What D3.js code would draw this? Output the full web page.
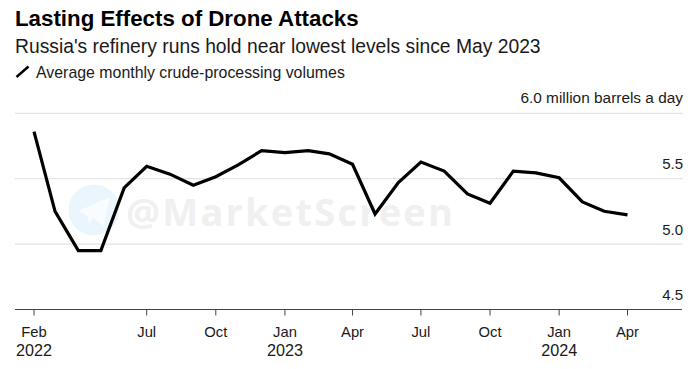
<!DOCTYPE html>
<html><head><meta charset="utf-8">
<script src="https://cdn.jsdelivr.net/npm/d3@7"></script>
<style>html,body{margin:0;padding:0;background:#fff}svg{display:block}text{font-family:"Liberation Sans",Arial,sans-serif}</style>
</head><body><svg id="c" width="700" height="369"></svg>
<script>
const months = ["2022-02","2022-03","2022-04","2022-05","2022-06","2022-07","2022-08","2022-09","2022-10","2022-11","2022-12","2023-01","2023-02","2023-03","2023-04","2023-05","2023-06","2023-07","2023-08","2023-09","2023-10","2023-11","2023-12","2024-01","2024-02","2024-03","2024-04"];
const volumes = [5.86,5.25,4.95,4.95,5.43,5.595,5.535,5.45,5.515,5.61,5.715,5.70,5.715,5.69,5.61,5.23,5.47,5.627,5.558,5.383,5.312,5.558,5.545,5.507,5.322,5.251,5.223];
const yTicks = [4.5,5.0,5.5,6.0];
const xTickMonths = ["2022-02","2022-07","2022-10","2023-01","2023-04","2023-07","2023-10","2024-01","2024-04"];
const xTickLabels = ["Feb","Jul","Oct","Jan","Apr","Jul","Oct","Jan","Apr"];
const xTickYears = ["2022","","","2023","","","","2024",""];
const title = "Lasting Effects of Drone Attacks";
const subtitle = "Russia's refinery runs hold near lowest levels since May 2023";
const legendLabel = "Average monthly crude-processing volumes";
const unit = " million barrels a day";
const watermark = "@MarketScreen";

const parse = d3.utcParse("%Y-%m");
const svg = d3.select("#c");
const left = 15, right = 683;
const x = d3.scaleUtc().domain([parse(months[0]), parse(months[months.length-1])]).range([34, 627.5]);
const y = d3.scaleLinear().domain([4.5, 6]).range([309.5, 113.3]);

// watermark
const wm = svg.append("g");
wm.append("circle").attr("cx",94).attr("cy",210).attr("r",25.5).attr("fill","#eaf5fc");
wm.append("path").attr("d","M78 211 L110 197 L104 226 L93 218 L89 224 L87 216 Z").attr("fill","#f8fcfe");
wm.append("text").attr("x",126).attr("y",225.5).attr("font-size",38).attr("font-weight",700)
  .attr("textLength",327).attr("lengthAdjust","spacing")
  .style("font-family","'Open Sans'").attr("fill","#f0f0f0").text(watermark);

// grid
svg.append("g").selectAll("line").data(yTicks.filter(d=>d>4.5)).join("line")
  .attr("x1",left).attr("x2",right).attr("y1",d=>y(d)).attr("y2",d=>y(d))
  .attr("stroke","#e3e3e3").attr("stroke-width",1.3);

// y labels
svg.append("g").selectAll("text").data(yTicks).join("text")
  .attr("x",683).attr("y",d=>y(d)-(d===6?10.3:9.6)).attr("text-anchor","end")
  .attr("font-size",d=>d===6?15.4:15).attr("fill","#1a1a1a")
  .text(d=>d===6?d.toFixed(1)+unit:d.toFixed(1));

// x axis
svg.append("line").attr("x1",left).attr("x2",682).attr("y1",y(4.5)).attr("y2",y(4.5)).attr("stroke","#444").attr("stroke-width",1);
const tk = svg.append("g").selectAll("g").data(xTickMonths).join("g")
  .attr("transform",d=>`translate(${x(parse(d))},0)`);
tk.append("line").attr("y1",y(4.5)).attr("y2",y(4.5)+6).attr("stroke","#444");
tk.append("text").attr("y",337).attr("text-anchor","middle").attr("font-size",14.8).attr("fill","#1a1a1a").text((d,i)=>xTickLabels[i]);
tk.append("text").attr("y",356).attr("text-anchor","middle").attr("font-size",16.2).attr("fill","#1a1a1a").text((d,i)=>xTickYears[i]);

// line
const line = d3.line().x((d,i)=>x(parse(months[i]))).y(d=>y(d));
svg.append("path").datum(volumes).attr("d",line).attr("fill","none").attr("stroke","#000").attr("stroke-width",3.2).attr("stroke-linejoin","miter");

// header
svg.append("text").attr("x",15).attr("y",26).attr("font-size",22.3).attr("font-weight",700).attr("fill","#000").text(title);
svg.append("text").attr("x",15).attr("y",52.5).attr("font-size",19.3).attr("fill","#1a1a1a").text(subtitle);
svg.append("line").attr("x1",16.5).attr("y1",77).attr("x2",28.5).attr("y2",66.5).attr("stroke","#000").attr("stroke-width",2.4);
svg.append("text").attr("x",36).attr("y",78).attr("font-size",15.9).attr("fill","#1a1a1a").text(legendLabel);
</script></body></html>
